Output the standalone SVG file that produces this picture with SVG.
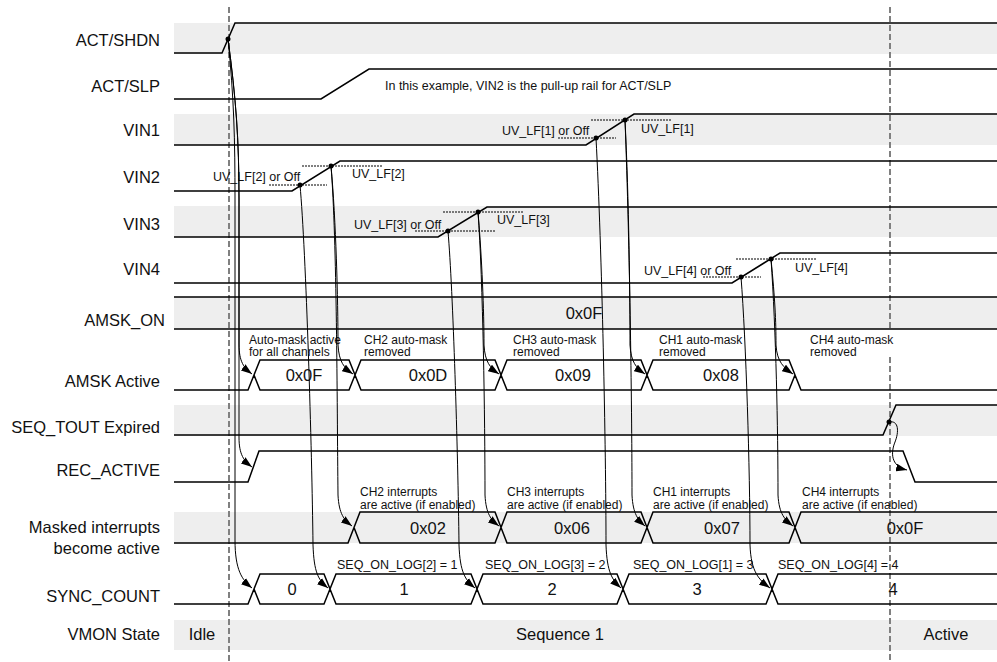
<svg xmlns="http://www.w3.org/2000/svg" width="997" height="662" viewBox="0 0 997 662">
<defs>
<style>
.lbl{font-family:"Liberation Sans",Arial,sans-serif;font-size:16.5px;fill:#111;text-anchor:end}
.val{font-family:"Liberation Sans",Arial,sans-serif;font-size:16.5px;fill:#111;text-anchor:middle}
.ann{font-family:"Liberation Sans",Arial,sans-serif;font-size:12.5px;fill:#111}
.ann2{font-family:"Liberation Sans",Arial,sans-serif;font-size:12px;fill:#111}
.band{fill:#eeeeee}
.sig{fill:none;stroke:#000;stroke-width:1.5}
.thr{fill:none;stroke:#000;stroke-width:1;stroke-dasharray:2,1}
.con{fill:none;stroke:#000;stroke-width:1;marker-end:url(#ah)}
.mark{fill:none;stroke:#808080;stroke-width:2;stroke-dasharray:6,3}
.dot{fill:#000}
</style>
<marker id="ah" viewBox="0 0 10 7" refX="10" refY="3.5" markerWidth="11" markerHeight="8" markerUnits="userSpaceOnUse" orient="auto">
<path d="M0,0 L10,3.5 L0,7 Z" fill="#000"/>
</marker>
</defs>
<rect width="997" height="662" fill="#fff"/>

<g id="bands">
<rect class="band" x="174" y="23" width="823" height="31"/>
<rect class="band" x="174" y="114" width="823" height="31"/>
<rect class="band" x="174" y="206" width="823" height="31"/>
<rect class="band" x="174" y="297" width="823" height="32"/>
<rect class="band" x="174" y="405" width="823" height="31"/>
<rect class="band" x="174" y="512" width="823" height="31"/>
<rect class="band" x="174" y="620" width="823" height="30"/>
</g>

<g id="markers">
<line class="mark" x1="229" y1="7" x2="229" y2="662"/>
<line class="mark" x1="890" y1="7" x2="890" y2="330"/>
<line class="mark" x1="890" y1="357" x2="890" y2="662"/>
</g>

<g id="act_shdn">
<text class="lbl" x="160" y="46">ACT/SHDN</text>
<path class="sig" d="M174,53 H222 L235,23 H997"/>
</g>
<g id="act_slp">
<text class="lbl" x="160" y="92">ACT/SLP</text>
<path class="sig" d="M174,99 H321 L369,69 H997"/>
<text class="ann" x="385" y="90">In this example, VIN2 is the pull-up rail for ACT/SLP</text>
</g>
<g id="vin1">
<text class="lbl" x="160" y="136">VIN1</text>
<path class="sig" d="M174,145 H586 L634,114 H997"/>
<line class="thr" x1="558" y1="138" x2="616" y2="138"/>
<line class="thr" x1="591" y1="120" x2="672" y2="120"/>
<text class="ann" x="502" y="135">UV_LF[1] or Off</text>
<text class="ann" x="641" y="133">UV_LF[1]</text>
</g>
<g id="vin2">
<text class="lbl" x="160" y="183">VIN2</text>
<path class="sig" d="M174,191 H292 L340,161 H997"/>
<line class="thr" x1="269" y1="185" x2="327" y2="185"/>
<line class="thr" x1="302" y1="166" x2="383" y2="166"/>
<text class="ann" x="213" y="181">UV_LF[2] or Off</text>
<text class="ann" x="352" y="178">UV_LF[2]</text>
</g>
<g id="vin3">
<text class="lbl" x="160" y="230">VIN3</text>
<path class="sig" d="M174,237 H438 L487,207 H997"/>
<line class="thr" x1="415" y1="231" x2="496" y2="231"/>
<line class="thr" x1="443" y1="212" x2="524" y2="212"/>
<text class="ann" x="354" y="229">UV_LF[3] or Off</text>
<text class="ann" x="497" y="224">UV_LF[3]</text>
</g>
<g id="vin4">
<text class="lbl" x="160" y="275">VIN4</text>
<path class="sig" d="M174,283 H732 L780,253 H997"/>
<line class="thr" x1="703" y1="277" x2="761" y2="277"/>
<line class="thr" x1="736" y1="259" x2="817" y2="259"/>
<text class="ann" x="644" y="275">UV_LF[4] or Off</text>
<text class="ann" x="795" y="272">UV_LF[4]</text>
</g>
<g id="amsk_on">
<text class="lbl" x="165" y="326">AMSK_ON</text>
<path class="sig" d="M174,297 H997 M174,329 H997"/>
<text class="val" x="584" y="319">0x0F</text>
</g>
<g id="amsk_active">
<text class="lbl" x="160" y="387">AMSK Active</text>
<path class="sig" d="M174,390 H248 L254,375 M254,375 L260,360 H349 L355,375 L349,390 H260 Z M355,375 L361,360 H495 L501,375 L495,390 H361 Z M501,375 L507,360 H641 L647,375 L641,390 H507 Z M647,375 L653,360 H789 L795,375 L789,390 H653 Z M795,375 L801,390 H997"/>
<text class="val" x="304" y="381">0x0F</text>
<text class="val" x="428" y="381">0x0D</text>
<text class="val" x="573" y="381">0x09</text>
<text class="val" x="721" y="381">0x08</text>
<text class="ann2" x="249" y="343.5">Auto-mask active</text>
<text class="ann2" x="249" y="356">for all channels</text>
<text class="ann2" x="364" y="343.5">CH2 auto-mask</text>
<text class="ann2" x="364" y="356">removed</text>
<text class="ann2" x="513" y="343.5">CH3 auto-mask</text>
<text class="ann2" x="513" y="356">removed</text>
<text class="ann2" x="659" y="343.5">CH1 auto-mask</text>
<text class="ann2" x="659" y="356">removed</text>
<text class="ann2" x="810" y="343.5">CH4 auto-mask</text>
<text class="ann2" x="810" y="356">removed</text>
</g>
<g id="seq_tout">
<text class="lbl" x="160" y="433">SEQ_TOUT Expired</text>
<path class="sig" d="M174,435 H883 L896,405 H997"/>
</g>
<g id="rec_active">
<text class="lbl" x="160" y="476">REC_ACTIVE</text>
<path class="sig" d="M174,482 H248 L259,451 H903 L915,482 H997"/>
</g>
<g id="masked_int">
<text class="lbl" x="160" y="533">Masked interrupts</text>
<text class="lbl" x="160" y="554">become active</text>
<path class="sig" d="M174,543 H348 L354,527.5 M354,527.5 L360,512 H495 L501,527.5 L495,543 H360 Z M501,527.5 L507,512 H641 L647,527.5 L641,543 H507 Z M647,527.5 L653,512 H789 L795,527.5 L789,543 H653 Z M795,527.5 L801,512 H997 M795,527.5 L801,543 H997"/>
<text class="val" x="428" y="534">0x02</text>
<text class="val" x="572" y="534">0x06</text>
<text class="val" x="722" y="534">0x07</text>
<text class="val" x="905" y="534">0x0F</text>
<text class="ann2" x="360" y="496">CH2 interrupts</text>
<text class="ann2" x="360" y="508.5">are active (if enabled)</text>
<text class="ann2" x="507" y="496">CH3 interrupts</text>
<text class="ann2" x="507" y="508.5">are active (if enabled)</text>
<text class="ann2" x="653" y="496">CH1 interrupts</text>
<text class="ann2" x="653" y="508.5">are active (if enabled)</text>
<text class="ann2" x="802" y="496">CH4 interrupts</text>
<text class="ann2" x="802" y="508.5">are active (if enabled)</text>
</g>
<g id="sync_count">
<text class="lbl" x="160" y="602">SYNC_COUNT</text>
<path class="sig" d="M174,604 H248 L254,589 M254,589 L260,574 H324 L330,589 L324,604 H260 Z M330,589 L336,574 H471 L477,589 L471,604 H336 Z M477,589 L483,574 H617 L623,589 L617,604 H483 Z M623,589 L629,574 H766 L772,589 L766,604 H629 Z M772,589 L778,574 H997 M772,589 L778,604 H997"/>
<text class="val" x="292" y="595">0</text>
<text class="val" x="404" y="595">1</text>
<text class="val" x="552" y="595">2</text>
<text class="val" x="697" y="595">3</text>
<text class="val" x="893" y="595">4</text>
<text class="ann" x="337" y="569">SEQ_ON_LOG[2] = 1</text>
<text class="ann" x="485" y="569">SEQ_ON_LOG[3] = 2</text>
<text class="ann" x="633" y="569">SEQ_ON_LOG[1] = 3</text>
<text class="ann" x="778" y="569">SEQ_ON_LOG[4] = 4</text>
</g>
<g id="vmon_state">
<text class="lbl" x="160" y="640">VMON State</text>
<text class="val" x="202" y="640">Idle</text>
<text class="val" x="560" y="640">Sequence 1</text>
<text class="val" x="946" y="640">Active</text>
</g>

<g id="connectors">
<path class="con" d="M228,39 C236,99 239,139 239,199 L239,344 C239,362 244,368 252,374"/>
<path class="con" d="M228,39 C236,99 239,139 239,199 L239,437 C239,455 244,461 252,467"/>
<path class="con" d="M228,39 C234,99 235,139 235,199 L235,540 C235,570 242,580 252,588"/>
<path class="con" d="M300,185 C306,250 312,450 313,545 C314,572 318,580 328,588"/>
<path class="con" d="M331,166 C336,220 338,300 338,345 C339,362 344,368 353,374"/>
<path class="con" d="M331,166 C337,240 337,400 338,495 C339,514 344,520 352,526"/>
<path class="con" d="M448,231 C453,290 458,450 459,545 C460,572 465,580 475,588"/>
<path class="con" d="M478,212 C482,260 484,310 484,345 C485,362 490,368 499,374"/>
<path class="con" d="M478,212 C483,280 485,420 485,495 C486,514 491,520 499,526"/>
<path class="con" d="M596,138 C602,250 606,450 606,545 C607,572 612,580 621,588"/>
<path class="con" d="M625,120 C629,200 630,300 630,345 C631,362 636,368 645,374"/>
<path class="con" d="M625,120 C630,250 632,420 632,495 C633,514 638,520 645,526"/>
<path class="con" d="M741,277 C746,340 750,470 750,545 C751,572 759,580 770,588"/>
<path class="con" d="M771,259 C775,300 776,320 776,345 C777,362 784,368 793,374"/>
<path class="con" d="M771,259 C776,330 778,430 778,495 C779,514 785,520 793,526"/>
<path class="con" d="M889,422 C899,420 899,432 895,442 C891,452 890,466 907,470"/>
<circle class="dot" cx="228" cy="39" r="2.5"/>
<circle class="dot" cx="300" cy="185" r="2.5"/>
<circle class="dot" cx="331" cy="166" r="2.5"/>
<circle class="dot" cx="448" cy="231" r="2.5"/>
<circle class="dot" cx="478" cy="212" r="2.5"/>
<circle class="dot" cx="596" cy="138" r="2.5"/>
<circle class="dot" cx="625" cy="120" r="2.5"/>
<circle class="dot" cx="741" cy="277" r="2.5"/>
<circle class="dot" cx="771" cy="259" r="2.5"/>
<circle class="dot" cx="889" cy="422" r="2.5"/>
</g>
</svg>
